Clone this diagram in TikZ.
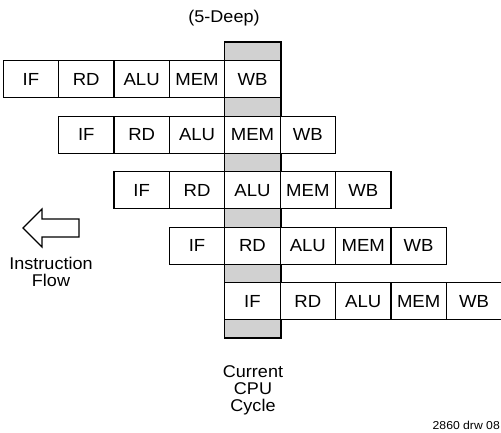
\documentclass[tikz,border=0pt]{standalone}
\usepackage{fontspec}
\setmainfont{Liberation Sans}[FakeStretch=1.06]
\begin{document}
\begin{tikzpicture}[x=1pt,y=-1pt,
  cell/.style={draw, line width=1.3pt, fill=white, minimum width=55.4pt, minimum height=37pt, inner sep=0pt, anchor=north west, font=\fontsize{17.5}{17}\selectfont},
  lbl/.style={font=\fontsize{17}{17}\selectfont, align=center, inner sep=0pt},
  cyclecol/.style={line width=1.8pt, fill=black!18},
  flowarrow/.style={line width=1.2pt, fill=white}]
\useasboundingbox (0,0) rectangle (501,432);
\draw[cyclecol] (224.5,42) rectangle (281,338);
\foreach \i in {0,...,4} {
  \foreach \s [count=\j from 0] in {IF,RD,ALU,MEM,WB} {
    \node[cell] (r\i-\j) at ({2.5+55.4*(\i+\j)}, {60+55.5*\i}) {\s};
  }
}
\node[lbl] (deep) at (224,18) {(5-Deep)};
\node[lbl] (cycle) at (253,390) {Current\\CPU\\Cycle};
\node[lbl] (flow) at (51,272) {Instruction\\Flow};
\node[font=\fontsize{11.5}{12}\selectfont, anchor=east, inner sep=0pt] (drw) at (500,425) {2860 drw 08};
\draw[flowarrow] (23,228) -- (42,209) -- (42,219) -- (79,219) -- (79,237) -- (42,237) -- (42,247) -- cycle;
\end{tikzpicture}
\end{document}
